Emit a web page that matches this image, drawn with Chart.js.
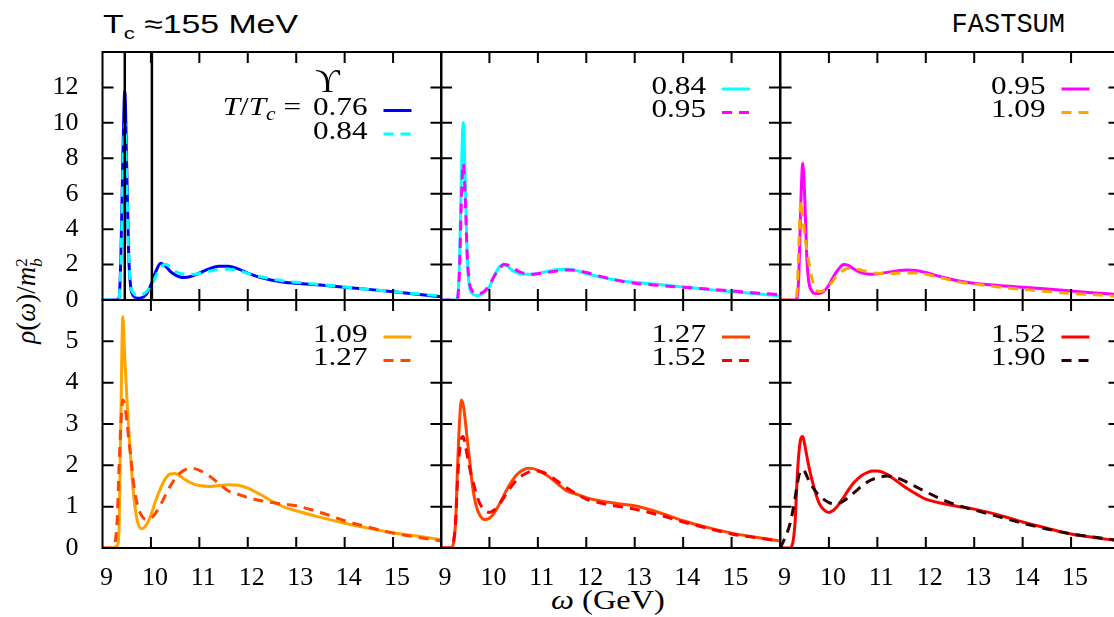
<!DOCTYPE html>
<html><head><meta charset="utf-8">
<script src="https://cdn.jsdelivr.net/npm/chart.js@4.4.1/dist/chart.umd.min.js"></script>
<style>
html,body{margin:0;padding:0;background:#fff;}
body{width:1114px;height:617px;overflow:hidden;position:relative;}
canvas{position:absolute;left:0;top:0;}
.txt{position:absolute;white-space:nowrap;color:#000;}
</style></head><body>
<div class="txt" style="left:103px;top:11px;font:26px 'Liberation Sans';line-height:26px;transform:scaleX(1.3);transform-origin:0 0;">T<span style="font-size:17px;position:relative;top:6px;">c</span> ≈155 MeV</div>
<div class="txt" style="right:49px;top:12px;font:27px 'Liberation Mono';line-height:27px;">FASTSUM</div>
<div class="txt" style="left:608px;top:587px;font:27px 'Liberation Serif';line-height:27px;transform:translateX(-50%) scaleX(1.2);"><i>ω</i> (GeV)</div>
<div class="txt" style="left:28px;top:301px;font:27px 'Liberation Serif';line-height:27px;transform:translate(-50%,-50%) rotate(-90deg);"><i>ρ</i>(<i>ω</i>)/<i>m</i><span style="display:inline-block;vertical-align:-7px;font-size:17px;line-height:15px;text-align:left;">2<br><i>b</i></span></div>
<script>
// ---- data ----
const omega = [9.0, 9.2, 9.3, 9.34, 9.38, 9.42, 9.46, 9.5, 9.54, 9.58, 9.65, 9.72, 9.8, 9.9, 10.0, 10.1, 10.2, 10.3, 10.4, 10.5, 10.6, 10.7, 10.8, 10.9, 11.0, 11.2, 11.4, 11.6, 11.8, 12.0, 12.25, 12.5, 12.75, 13.0, 13.5, 14.0, 14.5, 15.0, 15.5, 16.0];
const rho076 = [0, 0, 0, 0.1, 2.5, 8.0, 11.8, 7.5, 2.6, 0.8, 0.2, 0.1, 0.12, 0.3, 0.85, 1.6, 2.08, 1.92, 1.62, 1.42, 1.3, 1.27, 1.31, 1.4, 1.52, 1.76, 1.91, 1.91, 1.76, 1.52, 1.28, 1.11, 1.0, 0.94, 0.84, 0.72, 0.6, 0.47, 0.33, 0.18];
const rho084 = [0, 0, 0, 0.1, 2.0, 7.0, 10.0, 6.8, 2.6, 0.9, 0.35, 0.25, 0.28, 0.45, 0.75, 1.35, 1.85, 2.02, 1.85, 1.62, 1.5, 1.46, 1.45, 1.46, 1.5, 1.62, 1.72, 1.74, 1.66, 1.5, 1.33, 1.18, 1.07, 1.0, 0.87, 0.73, 0.6, 0.47, 0.35, 0.23];
const rho095 = [0, 0, 0, 0.1, 1.5, 5.5, 7.7, 5.8, 2.6, 1.1, 0.5, 0.36, 0.36, 0.5, 0.85, 1.35, 1.75, 2.0, 1.95, 1.78, 1.62, 1.52, 1.47, 1.46, 1.48, 1.56, 1.64, 1.7, 1.67, 1.55, 1.36, 1.19, 1.05, 0.95, 0.82, 0.72, 0.62, 0.51, 0.4, 0.3];
const rho109 = [0, 0, 0.05, 0.4, 3.2, 5.6, 4.6, 3.7, 2.9, 2.2, 1.2, 0.65, 0.47, 0.55, 0.8, 1.15, 1.45, 1.68, 1.79, 1.8, 1.74, 1.66, 1.59, 1.54, 1.51, 1.49, 1.51, 1.53, 1.52, 1.45, 1.3, 1.13, 0.99, 0.9, 0.74, 0.6, 0.48, 0.37, 0.29, 0.2];
const rho127 = [0, 0, 0.6, 1.9, 3.0, 3.58, 3.45, 3.1, 2.65, 2.25, 1.5, 1.05, 0.8, 0.69, 0.72, 0.85, 1.05, 1.28, 1.5, 1.68, 1.81, 1.89, 1.93, 1.92, 1.88, 1.75, 1.56, 1.38, 1.3, 1.22, 1.15, 1.1, 1.06, 1.02, 0.86, 0.66, 0.5, 0.36, 0.26, 0.17];
const rho152 = [0, 0, 0.6, 1.6, 2.3, 2.65, 2.7, 2.5, 2.25, 2.0, 1.65, 1.35, 1.08, 0.92, 0.86, 0.92, 1.05, 1.22, 1.4, 1.56, 1.68, 1.77, 1.83, 1.86, 1.86, 1.78, 1.62, 1.45, 1.31, 1.18, 1.1, 1.04, 0.99, 0.94, 0.8, 0.63, 0.48, 0.34, 0.25, 0.17];
const rho190 = [0, 0.6, 1.2, 1.5, 1.75, 1.88, 1.9, 1.85, 1.75, 1.65, 1.5, 1.38, 1.27, 1.17, 1.1, 1.07, 1.08, 1.14, 1.22, 1.32, 1.42, 1.52, 1.6, 1.66, 1.7, 1.74, 1.7, 1.6, 1.48, 1.36, 1.22, 1.1, 1.0, 0.92, 0.76, 0.6, 0.46, 0.34, 0.26, 0.18];
const tempLabels = ['0.76', '0.84', '0.95', '1.09', '1.27', '1.52', '1.90'];
const panelPairs = [['0.76', '0.84'], ['0.84', '0.95'], ['0.95', '1.09'], ['1.09', '1.27'], ['1.27', '1.52'], ['1.52', '1.90']];
const upsilonMasses = [9.46, 10.02];
const xRange = [9, 16];
const yRangeTop = [0, 14];
const yRangeBottom = [0, 6];

const rhoByTemp = {};
[rho076, rho084, rho095, rho109, rho127, rho152, rho190].forEach((arr, k) => { rhoByTemp[tempLabels[k]] = arr; });

// ---- styles / layout ----
const lineColors = {'0.76': '#0000ff', '0.84': '#00ffff', '0.95': '#ff00ff', '1.09': '#ffa500', '1.27': '#ff4500', '1.52': '#ff0000', '1.90': '#2b0000'};
const DASH = [10, 7];
const colLeft = [102.5, 441, 780.5];
const rowTop = [52, 300];
const PW = 339, PH = 248, CW = 1130, CH = 617, YW = 60, XH = 40;
const SERIF = "'Liberation Serif', serif";
const TICK_FONT = {family: 'Liberation Serif', size: 26, style: 'normal', weight: 'normal'};

Chart.defaults.font.family = 'Liberation Serif';
Chart.defaults.color = '#000';

const framePlugin = {
  id: 'frame',
  afterDraw(chart) {
    const {ctx, chartArea: a, scales: {x, y}} = chart;
    ctx.save();
    ctx.strokeStyle = '#000';
    ctx.lineWidth = 2;
    ctx.setLineDash([]);
    ctx.beginPath();
    x.ticks.forEach(t => {
      if (t.value <= x.min || t.value >= x.max) return;
      const px = x.getPixelForValue(t.value);
      ctx.moveTo(px, a.bottom); ctx.lineTo(px, a.bottom - 11);
      ctx.moveTo(px, a.top); ctx.lineTo(px, a.top + 11);
    });
    y.ticks.forEach(t => {
      if (t.value <= y.min || t.value >= y.max) return;
      const py = y.getPixelForValue(t.value);
      ctx.moveTo(a.left, py); ctx.lineTo(a.left + 11, py);
      ctx.moveTo(a.right, py); ctx.lineTo(a.right - 11, py);
    });
    ctx.stroke();
    ctx.strokeRect(a.left, a.top, a.right - a.left, a.bottom - a.top);
    ctx.restore();
  }
};

const SX = 1.2; // horizontal stretch of legend text
const legendPlugin = {
  id: 'panelLegend',
  afterDraw(chart, args, opts) {
    const {ctx, chartArea: a} = chart;
    ctx.save();
    ctx.textBaseline = 'alphabetic';
    ctx.fillStyle = '#000';
    const textRight = a.right - 74;
    opts.items.forEach((it, i) => {
      const yb = a.top + opts.firstBaseline + i * 23.5;
      ctx.font = '26px ' + SERIF;
      const lw = ctx.measureText(it.label).width * SX;
      ctx.save();
      ctx.translate(textRight - lw, yb);
      ctx.scale(SX, 1);
      ctx.textAlign = 'left';
      ctx.fillText(it.label, 0, 0);
      ctx.restore();
      if (i === 0 && opts.prefix) {
        const parts = [
          {t: 'T', f: 'italic 26px ' + SERIF, dy: 0},
          {t: '/', f: '26px ' + SERIF, dy: 0},
          {t: 'T', f: 'italic 26px ' + SERIF, dy: 0},
          {t: 'c', f: 'italic 18px ' + SERIF, dy: 5},
          {t: ' = ', f: '26px ' + SERIF, dy: 0}
        ];
        let total = 0;
        parts.forEach(p => { ctx.font = p.f; p.w = ctx.measureText(p.t).width * SX; total += p.w; });
        let px = textRight - lw - 4 - total;
        parts.forEach(p => {
          ctx.font = p.f;
          ctx.save(); ctx.translate(px, yb + p.dy); ctx.scale(SX, 1);
          ctx.textAlign = 'left'; ctx.fillText(p.t, 0, 0); ctx.restore();
          px += p.w;
        });
        ctx.font = '34px ' + SERIF;
        ctx.textAlign = 'center';
        ctx.fillText('ϒ', a.right - 114, a.top + 40);
      }
      ctx.beginPath();
      ctx.strokeStyle = it.color;
      ctx.lineWidth = 3;
      ctx.setLineDash(it.dash);
      ctx.moveTo(a.right - 58, yb - 4.5);
      ctx.lineTo(a.right - 30, yb - 4.5);
      ctx.stroke();
    });
    ctx.restore();
  }
};

panelPairs.forEach((pair, i) => {
  const row = Math.floor(i / 3), col = i % 3;
  const left = colLeft[col], top = rowTop[row];
  const yr = row === 0 ? yRangeTop : yRangeBottom;
  const ystep = row === 0 ? 2 : 1;
  const canvas = document.createElement('canvas');
  canvas.width = CW; canvas.height = CH;
  document.body.appendChild(canvas);
  const toPts = arr => omega.map((w, k) => ({x: w, y: arr[k]}));
  const datasets = [];
  if (i === 0) {
    upsilonMasses.forEach(m => datasets.push({
      data: [{x: m, y: yr[0]}, {x: m, y: yr[1]}], borderColor: '#000', borderWidth: 2.5,
      pointRadius: 0, tension: 0, order: 0, fill: false
    }));
  }
  datasets.push({label: pair[1], data: toPts(rhoByTemp[pair[1]]), borderColor: lineColors[pair[1]],
    borderWidth: 3, borderDash: DASH, pointRadius: 0, cubicInterpolationMode: 'monotone', order: 1, fill: false});
  datasets.push({label: pair[0], data: toPts(rhoByTemp[pair[0]]), borderColor: lineColors[pair[0]],
    borderWidth: 3, pointRadius: 0, cubicInterpolationMode: 'monotone', order: 2, fill: false});

  new Chart(canvas, {
    type: 'line',
    data: {datasets},
    options: {
      responsive: false, animation: false, devicePixelRatio: 1,
      events: [],
      layout: {padding: {left: left - YW, top: top, right: CW - left - PW, bottom: CH - top - PH - XH}},
      plugins: {
        legend: {display: false}, tooltip: {enabled: false},
        panelLegend: {
          items: [
            {label: pair[0], color: lineColors[pair[0]], dash: []},
            {label: pair[1], color: lineColors[pair[1]], dash: DASH}
          ],
          firstBaseline: i === 0 ? 63 : 41.5,
          prefix: i === 0
        }
      },
      scales: {
        x: {
          type: 'linear', min: xRange[0], max: xRange[1],
          afterFit(s) { s.height = XH; },
          grid: {display: false}, border: {display: false},
          ticks: {display: row === 1, stepSize: 1, autoSkip: false, maxRotation: 0, padding: 7, labelOffset: 4,
            font: TICK_FONT, color: '#000', callback: v => (v >= xRange[1] ? '' : String(v))}
        },
        y: {
          type: 'linear', min: yr[0], max: yr[1],
          afterFit(s) { s.width = YW; },
          grid: {display: false}, border: {display: false},
          ticks: {display: col === 0, stepSize: ystep, padding: 16, font: TICK_FONT, color: '#000',
            callback: v => (v >= yr[1] ? '' : String(v))}
        }
      }
    },
    plugins: [framePlugin, legendPlugin]
  });
});
</script>
</body></html>
